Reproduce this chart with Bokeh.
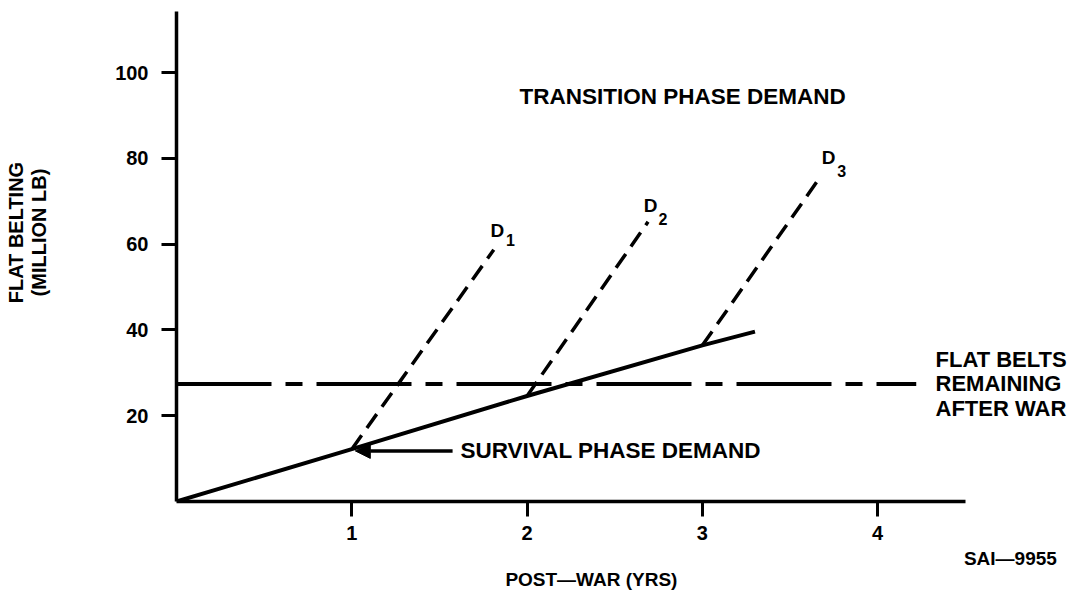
from bokeh.plotting import figure
from bokeh.models import (Label, Arrow, NormalHead, FixedTicker, Range1d, LinearAxis)
from bokeh.embed import file_html
from bokeh.resources import INLINE

# ---- data ----
survival_years = [0, 1, 2, 3, 3.3]
survival_demand = [0, 12.2, 24.6, 36.4, 39.6]

d1_years = [1.0, 1.81]
d1_demand = [12.2, 58.7]
d2_years = [2.0, 2.69]
d2_demand = [24.6, 65.2]
d3_years = [3.0, 3.68]
d3_demand = [36.4, 76.1]

remaining_years = [0, 4.22]
remaining_belts = [27.4, 27.4]

x_ticks = [1, 2, 3, 4]
y_ticks = [20, 40, 60, 80, 100]

FONT = "Liberation Sans"

p = figure(width=1070, height=592, output_backend="svg", toolbar_location=None,
           title=None,
           x_range=Range1d(0, 5.1), y_range=Range1d(0, 116.8),
           min_border_left=176, min_border_right=0,
           min_border_top=0, min_border_bottom=89)
p.outline_line_color = None
p.grid.visible = False
p.background_fill_color = "white"

xax = p.below[0]
yax = p.left[0]
xax.bounds = (0, 4.5)
yax.bounds = (0, 114.3)
for ax in (xax, yax):
    ax.axis_line_width = 3.5
    ax.axis_line_color = "black"
    ax.major_tick_line_width = 3
    ax.major_tick_line_color = "black"
    ax.major_tick_out = 15
    ax.major_tick_in = 0
    ax.minor_tick_out = 0
    ax.minor_tick_in = 0
    ax.major_label_text_font = FONT
    ax.major_label_text_font_style = "bold"
    ax.major_label_text_font_size = "20px"
    ax.major_label_text_color = "black"
xax.ticker = FixedTicker(ticks=x_ticks)
yax.ticker = FixedTicker(ticks=y_ticks)
xax.major_label_standoff = 9
yax.major_label_standoff = 13


def text_axis(side, pos, text, standoff, size, orient="horizontal"):
    ax = LinearAxis(ticker=FixedTicker(ticks=[pos]),
                    major_label_overrides={pos: text},
                    axis_line_color=None, major_tick_line_color=None,
                    minor_tick_line_color=None,
                    major_tick_out=0, major_tick_in=0,
                    minor_tick_out=0, minor_tick_in=0,
                    major_label_standoff=standoff,
                    major_label_orientation=orient,
                    major_label_text_font=FONT,
                    major_label_text_font_style="bold",
                    major_label_text_font_size=size,
                    major_label_text_color="black")
    p.add_layout(ax, side)
    return ax


# text stacked outside the frame (as labels of text-only axes)
text_axis("below", 4.757, "SAI\u20149955", 5, "19px")
text_axis("below", 2.367, "POST\u2014WAR (YRS)", -3, "19px")
text_axis("left", 62.7, "(MILLION LB)", 62, "20px", "vertical")
text_axis("left", 62.7, "FLAT BELTING", -2, "20px", "vertical")

# lines
p.line(survival_years, survival_demand, line_color="black", line_width=4)
p.line(remaining_years, remaining_belts, line_color="black", line_width=4,
       line_dash="95 14 17 14")
for xs, ys in ((d1_years, d1_demand), (d2_years, d2_demand), (d3_years, d3_demand)):
    p.line(xs, ys, line_color="black", line_width=3.5, line_dash="17 9")

# arrow for survival phase demand
p.add_layout(Arrow(end=NormalHead(size=15, fill_color="black", line_color="black"),
                   x_start=1.575, y_start=11.8, x_end=1.02, y_end=11.8,
                   line_width=3.5, line_color="black"))


def lab(text, x, y, size="22px", align="left", baseline="middle"):
    p.add_layout(Label(x=x, y=y, text=text, text_font=FONT, text_font_style="bold",
                       text_font_size=size, text_align=align, text_baseline=baseline,
                       text_color="black"))


lab("TRANSITION PHASE DEMAND", 1.957, 94.4, size="22.5px")
lab("SURVIVAL PHASE DEMAND", 1.62, 12.0, size="22.5px")

lab("FLAT BELTS", 4.33, 33.2)
lab("REMAINING", 4.33, 27.4)
lab("AFTER WAR", 4.33, 21.6)

# D labels with subscripts
lab("D", 1.83, 63.1, size="19px", align="center")
lab("1", 1.905, 61.0, size="16px", align="center")
lab("D", 2.704, 69.0, size="19px", align="center")
lab("2", 2.775, 65.8, size="16px", align="center")
lab("D", 3.72, 80.3, size="19px", align="center")
lab("3", 3.795, 77.0, size="16px", align="center")

open("out.html", "w").write(file_html(p, INLINE))
